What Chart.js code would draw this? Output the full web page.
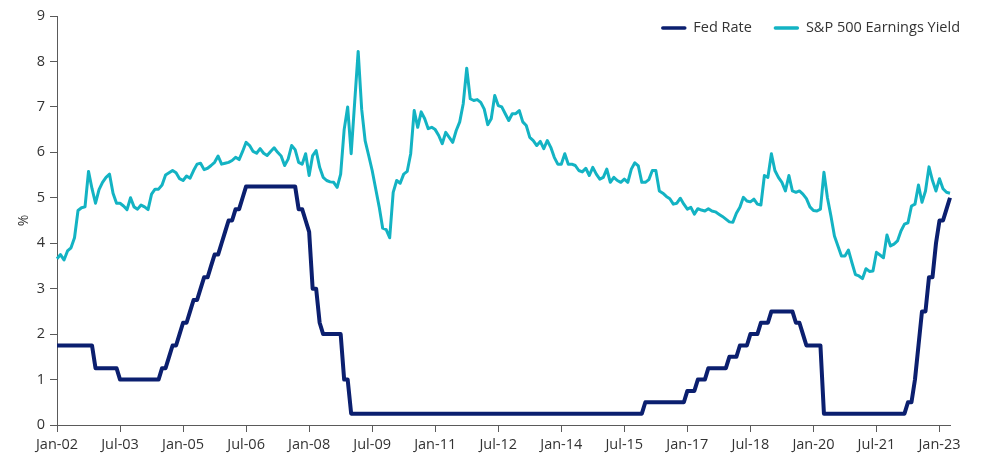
<!DOCTYPE html>
<html>
<head>
<meta charset="utf-8">
<script src="https://cdn.jsdelivr.net/npm/chart.js@4.4.1/dist/chart.umd.min.js"></script>
<style>
  html, body { margin: 0; padding: 0; background: #ffffff; }
  #wrap { width: 989px; height: 454px; position: relative; }
</style>
</head>
<body>
<div id="wrap"><canvas id="c"></canvas></div>
<script>
// ---- Data (monthly, Jan-02 .. Apr-23) ----
const monthNames = ['Jan','Feb','Mar','Apr','May','Jun','Jul','Aug','Sep','Oct','Nov','Dec'];
const firstYear = 2002, lastYear = 2023, lastMonthIndex = 3; // Apr-23
const categories = [];
for (let y = firstYear; y <= lastYear; y++) {
  for (let m = 0; m < 12; m++) {
    if (y === lastYear && m > lastMonthIndex) break;
    categories.push(monthNames[m] + '-' + String(y).slice(2));
  }
}

const tickLabels = ['Jan-02','Jul-03','Jan-05','Jul-06','Jan-08','Jul-09','Jan-11','Jul-12',
                    'Jan-14','Jul-15','Jan-17','Jul-18','Jan-20','Jul-21','Jan-23'];

const fedRate = [
  1.75,1.75,1.75,1.75,1.75,1.75,1.75,1.75,1.75,1.75,1.75,1.25, // 2002
  1.25,1.25,1.25,1.25,1.25,1.25,1,1,1,1,1,1,                   // 2003
  1,1,1,1,1,1,1.25,1.25,1.5,1.75,1.75,2,                       // 2004
  2.25,2.25,2.5,2.75,2.75,3,3.25,3.25,3.5,3.75,3.75,4,         // 2005
  4.25,4.5,4.5,4.75,4.75,5,5.25,5.25,5.25,5.25,5.25,5.25,      // 2006
  5.25,5.25,5.25,5.25,5.25,5.25,5.25,5.25,5.25,4.75,4.75,4.5,  // 2007
  4.25,3,3,2.25,2,2,2,2,2,2,1,1,                               // 2008
  0.25,0.25,0.25,0.25,0.25,0.25,0.25,0.25,0.25,0.25,0.25,0.25, // 2009
  0.25,0.25,0.25,0.25,0.25,0.25,0.25,0.25,0.25,0.25,0.25,0.25, // 2010
  0.25,0.25,0.25,0.25,0.25,0.25,0.25,0.25,0.25,0.25,0.25,0.25, // 2011
  0.25,0.25,0.25,0.25,0.25,0.25,0.25,0.25,0.25,0.25,0.25,0.25, // 2012
  0.25,0.25,0.25,0.25,0.25,0.25,0.25,0.25,0.25,0.25,0.25,0.25, // 2013
  0.25,0.25,0.25,0.25,0.25,0.25,0.25,0.25,0.25,0.25,0.25,0.25, // 2014
  0.25,0.25,0.25,0.25,0.25,0.25,0.25,0.25,0.25,0.25,0.25,0.25, // 2015
  0.5,0.5,0.5,0.5,0.5,0.5,0.5,0.5,0.5,0.5,0.5,0.5,             // 2016
  0.75,0.75,0.75,1,1,1,1.25,1.25,1.25,1.25,1.25,1.25,          // 2017
  1.5,1.5,1.5,1.75,1.75,1.75,2,2,2,2.25,2.25,2.25,             // 2018
  2.5,2.5,2.5,2.5,2.5,2.5,2.5,2.25,2.25,2,1.75,1.75,           // 2019
  1.75,1.75,1.75,0.25,0.25,0.25,0.25,0.25,0.25,0.25,0.25,0.25, // 2020
  0.25,0.25,0.25,0.25,0.25,0.25,0.25,0.25,0.25,0.25,0.25,0.25, // 2021
  0.25,0.25,0.25,0.5,0.5,1,1.75,2.5,2.5,3.25,3.25,4,           // 2022
  4.5,4.5,4.75,5                                               // 2023
];

const earningsYield = [
  3.66,3.75,3.63,3.83,3.9,4.12,4.72,4.78,4.8,5.58,5.2,4.88,      // 2002
  5.18,5.34,5.45,5.52,5.1,4.88,4.88,4.82,4.74,5.0,4.8,4.75,      // 2003
  4.84,4.8,4.74,5.08,5.19,5.19,5.28,5.5,5.55,5.6,5.55,5.42,      // 2004
  5.38,5.48,5.43,5.6,5.74,5.76,5.62,5.65,5.71,5.78,5.92,5.74,    // 2005
  5.76,5.78,5.82,5.89,5.84,6.02,6.22,6.15,6.02,5.98,6.08,5.98,   // 2006
  5.93,6.02,6.1,6.0,5.92,5.71,5.85,6.15,6.06,5.78,5.74,5.97,     // 2007
  5.49,5.93,6.04,5.67,5.45,5.38,5.35,5.34,5.23,5.52,6.5,7.0,     // 2008
  5.97,7.1,8.22,6.95,6.25,5.93,5.6,5.2,4.8,4.33,4.3,4.12,        // 2009
  5.12,5.38,5.32,5.52,5.58,5.97,6.92,6.55,6.89,6.74,6.52,6.55,   // 2010
  6.5,6.37,6.19,6.44,6.33,6.22,6.48,6.67,7.07,7.85,7.18,7.14,    // 2011
  7.16,7.1,6.95,6.61,6.74,7.25,7.03,7.0,6.85,6.7,6.85,6.85,      // 2012
  6.92,6.67,6.59,6.33,6.26,6.15,6.24,6.08,6.26,6.11,5.89,5.74,   // 2013
  5.74,5.97,5.74,5.74,5.71,5.6,5.57,5.65,5.49,5.67,5.52,5.41,    // 2014
  5.45,5.63,5.34,5.45,5.38,5.34,5.41,5.34,5.63,5.77,5.7,5.34,    // 2015
  5.34,5.4,5.6,5.6,5.15,5.1,5.03,4.98,4.86,4.88,4.99,4.86,       // 2016
  4.75,4.79,4.64,4.76,4.73,4.71,4.76,4.71,4.69,4.64,4.59,4.53,   // 2017
  4.47,4.46,4.66,4.79,5.01,4.93,4.91,4.97,4.86,4.84,5.49,5.45,   // 2018
  5.97,5.6,5.45,5.34,5.15,5.49,5.15,5.12,5.15,5.08,4.98,4.8,     // 2019
  4.72,4.71,4.75,5.56,5.0,4.6,4.16,3.94,3.72,3.72,3.85,3.57,     // 2020
  3.31,3.28,3.22,3.44,3.38,3.39,3.8,3.74,3.68,4.18,3.94,3.98,    // 2021
  4.05,4.27,4.42,4.45,4.82,4.86,5.28,4.9,5.15,5.68,5.38,5.15,    // 2022
  5.42,5.2,5.12,5.1                                              // 2023
];

const seriesNames = ['Fed Rate', 'S&P 500 Earnings Yield'];
const seriesColors = ['#0b1f6f', '#13b3c3'];
const yTitle = '%';

// ---- Chart ----
const TEXT = '#333333';
const AXIS = '#5a5a5a';
const FONT_FAMILY = '"Open Sans", "DejaVu Sans", sans-serif';
Chart.defaults.font.family = FONT_FAMILY;
Chart.defaults.font.size = 14.5;
Chart.defaults.color = TEXT;

const legendPlugin = {
  id: 'topRightLegend',
  afterDraw(chart) {
    const ctx = chart.ctx;
    ctx.save();
    ctx.font = '14.5px ' + FONT_FAMILY;
    ctx.textBaseline = 'middle';
    ctx.textAlign = 'left';
    const sample = 25, gap = 7, itemGap = 22;
    const items = chart.data.datasets.map(ds => ({ text: ds.label, color: ds.borderColor }));
    let total = 0;
    items.forEach((it, k) => {
      it.tw = ctx.measureText(it.text).width;
      total += sample + gap + it.tw + (k ? itemGap : 0);
    });
    let x = chart.width - 29 - total;
    const y = 28;
    items.forEach((it, k) => {
      if (k) x += itemGap;
      ctx.strokeStyle = it.color;
      ctx.lineWidth = 3.5;
      ctx.lineCap = 'round';
      ctx.beginPath();
      ctx.moveTo(x + 1.5, y);
      ctx.lineTo(x + sample - 1.5, y);
      ctx.stroke();
      x += sample + gap;
      ctx.fillStyle = TEXT;
      ctx.fillText(it.text, x, y);
      x += it.tw;
    });
    ctx.restore();
  }
};

new Chart(document.getElementById('c'), {
  type: 'line',
  data: {
    labels: categories,
    datasets: [
      {
        label: seriesNames[0],
        data: fedRate,
        borderColor: seriesColors[0],
        backgroundColor: seriesColors[0],
        borderWidth: 4,
        pointRadius: 0,
        tension: 0,
        borderJoinStyle: 'round',
        fill: false
      },
      {
        label: seriesNames[1],
        data: earningsYield,
        borderColor: seriesColors[1],
        backgroundColor: seriesColors[1],
        borderWidth: 3,
        pointRadius: 0,
        tension: 0,
        borderJoinStyle: 'round',
        fill: false
      }
    ]
  },
  options: {
    responsive: true,
    maintainAspectRatio: false,
    animation: false,
    layout: { padding: { top: 16, right: 39, bottom: 0, left: 0 } },
    plugins: {
      legend: { display: false },
      tooltip: { enabled: false },
      title: { display: false }
    },
    scales: {
      x: {
        type: 'category',
        offset: false,
        grid: {
          display: true,
          drawOnChartArea: false,
          drawTicks: true,
          tickLength: 7,
          color: AXIS
        },
        border: { display: true, color: AXIS, width: 1 },
        ticks: {
          autoSkip: false,
          maxRotation: 0,
          minRotation: 0,
          padding: 4,
          color: TEXT,
          font: { size: 14.5 },
          callback: function (value, index) {
            const lab = this.getLabelForValue(value);
            return tickLabels.includes(lab) ? lab : null;
          }
        },
        afterFit: function (scale) { scale.height = 29; }
      },
      y: {
        min: 0,
        max: 9,
        grid: {
          display: true,
          drawOnChartArea: false,
          drawTicks: true,
          tickLength: 7,
          color: AXIS
        },
        border: { display: true, color: AXIS, width: 1 },
        ticks: { stepSize: 1, padding: 5, color: TEXT, font: { size: 14.5 } },
        title: {
          display: true,
          text: yTitle,
          color: TEXT,
          font: { size: 14 },
          padding: { top: 16, bottom: 0 }
        },
        afterFit: function (scale) { scale.width = 57; }
      }
    }
  },
  plugins: [legendPlugin]
});
</script>
</body>
</html>
